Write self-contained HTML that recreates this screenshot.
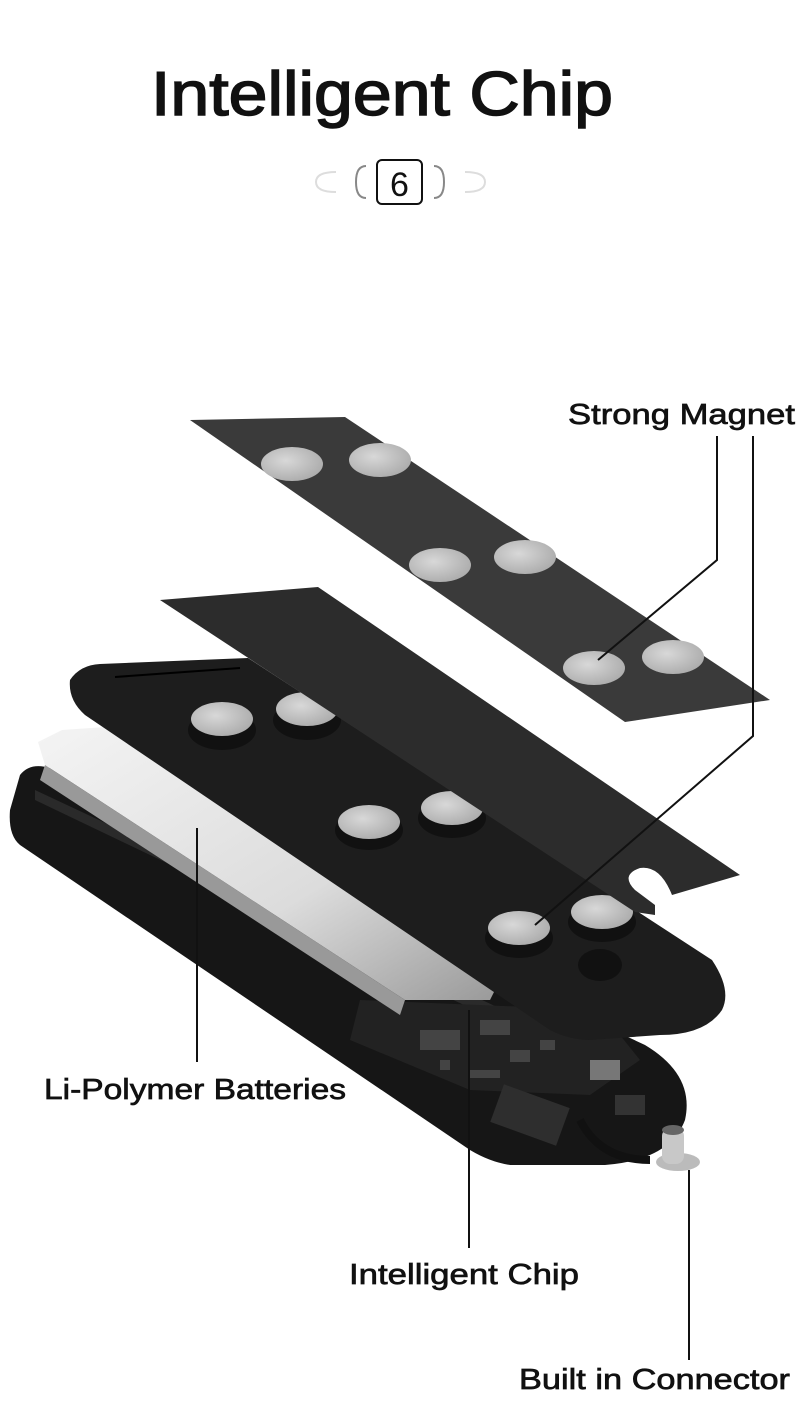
<!DOCTYPE html>
<html><head><meta charset="utf-8"><style>
html,body{margin:0;padding:0;background:#fff}
svg{display:block}
text{font-family:"Liberation Sans",sans-serif;fill:#111;stroke:#111;stroke-width:0.7}
</style></head><body>
<svg width="800" height="1417" viewBox="0 0 800 1417" xmlns="http://www.w3.org/2000/svg">
<defs>
<linearGradient id="bat" x1="0" y1="0" x2="1" y2="1">
<stop offset="0" stop-color="#f4f4f4"/><stop offset="0.6" stop-color="#dcdcdc"/><stop offset="1" stop-color="#9a9a9a"/></linearGradient>
<radialGradient id="mag" cx="0.4" cy="0.4" r="0.7"><stop offset="0" stop-color="#d8d8d8"/><stop offset="1" stop-color="#a8a8a8"/></radialGradient>
</defs>
<text x="382" y="115" font-size="62" text-anchor="middle" textLength="462" lengthAdjust="spacingAndGlyphs" style="stroke-width:1.5">Intelligent Chip</text>
<!-- badge -->
<path d="M336 172 Q316 172 316 182 Q316 192 336 192" fill="none" stroke="#ddd" stroke-width="2"/>
<path d="M465 172 Q485 172 485 182 Q485 192 465 192" fill="none" stroke="#ddd" stroke-width="2"/>
<path d="M366 166 Q356 166 356 182 Q356 198 366 198" fill="none" stroke="#888" stroke-width="2"/>
<path d="M434 166 Q444 166 444 182 Q444 198 434 198" fill="none" stroke="#888" stroke-width="2"/>
<rect x="377" y="160" width="45" height="44" rx="5" fill="#fff" stroke="#111" stroke-width="2"/>
<text x="399.5" y="196" font-size="34" text-anchor="middle" style="stroke-width:0">6</text>

<!-- bottom case -->
<path d="M20 775 Q30 762 50 768 L645 1045 Q695 1075 685 1120 Q670 1160 605 1165 L510 1165 Q490 1162 470 1150 L20 845 Q8 835 10 810 Z" fill="#161616"/>
<path d="M35 790 L610 1060 L600 1070 L35 800 Z" fill="#2a2a2a"/>
<!-- pcb -->
<path d="M360 1000 L600 1010 L640 1060 L590 1095 L470 1090 L350 1040 Z" fill="#222"/>
<g fill="#444">
<rect x="420" y="1030" width="40" height="20"/><rect x="480" y="1020" width="30" height="15"/><rect x="510" y="1050" width="20" height="12"/><rect x="470" y="1070" width="30" height="8"/><rect x="440" y="1060" width="10" height="10"/><rect x="540" y="1040" width="15" height="10"/>
</g>
<rect x="495" y="1095" width="70" height="40" fill="#2e2e2e" transform="rotate(20 530 1115)"/>
<rect x="590" y="1060" width="30" height="20" fill="#777"/>
<rect x="615" y="1095" width="30" height="20" fill="#333"/>
<path d="M580 1120 Q600 1160 650 1160" fill="none" stroke="#111" stroke-width="8"/>
<!-- battery -->
<path d="M38 742 L62 730 L120 726 L495 990 L490 1000 L405 1000 L45 765 Z" fill="url(#bat)"/>
<path d="M45 765 L405 1000 L400 1015 L40 780 Z" fill="#999"/>
<!-- lid -->
<path d="M70 680 Q80 665 100 664 L248 658 L712 960 Q732 990 722 1010 Q705 1035 660 1035 L590 1040 Q570 1040 550 1030 L85 715 Q68 700 70 680 Z" fill="#1d1d1d"/>
<path d="M115 677 L240 668" stroke="#000" stroke-width="2"/>
<g fill="#111">
<ellipse cx="222" cy="730" rx="34" ry="20"/><ellipse cx="307" cy="720" rx="34" ry="20"/>
<ellipse cx="369" cy="830" rx="34" ry="20"/><ellipse cx="452" cy="818" rx="34" ry="20"/>
<ellipse cx="519" cy="938" rx="34" ry="20"/><ellipse cx="602" cy="922" rx="34" ry="20"/>
</g>
<g fill="url(#mag)">
<ellipse cx="222" cy="719" rx="31" ry="17"/><ellipse cx="307" cy="709" rx="31" ry="17"/>
<ellipse cx="369" cy="822" rx="31" ry="17"/><ellipse cx="452" cy="808" rx="31" ry="17"/>
<ellipse cx="519" cy="928" rx="31" ry="17"/><ellipse cx="602" cy="912" rx="31" ry="17"/>
</g>
<ellipse cx="600" cy="965" rx="22" ry="16" fill="#111"/>
<!-- middle plate -->
<path d="M160 600 L318 587 L740 875 L672 895 Q660 865 640 868 Q620 875 635 890 L655 905 L655 915 L635 912 Z" fill="#2c2c2c"/>
<!-- top plate -->
<path d="M190 420 L345 417 L770 700 L625 722 Z" fill="#3a3a3a"/>
<g fill="url(#mag)">
<ellipse cx="292" cy="464" rx="31" ry="17"/><ellipse cx="380" cy="460" rx="31" ry="17"/>
<ellipse cx="440" cy="565" rx="31" ry="17"/><ellipse cx="525" cy="557" rx="31" ry="17"/>
<ellipse cx="594" cy="668" rx="31" ry="17"/><ellipse cx="673" cy="657" rx="31" ry="17"/>
</g>
<!-- connector -->
<ellipse cx="678" cy="1162" rx="22" ry="9" fill="#bbb"/>
<rect x="662" y="1128" width="22" height="36" rx="8" fill="#c8c8c8"/>
<ellipse cx="673" cy="1130" rx="11" ry="5" fill="#666"/>
<!-- leader lines -->
<g stroke="#111" stroke-width="2" fill="none">
<path d="M717 436 L717 560 L598 660"/>
<path d="M753 436 L753 736 L535 925"/>
<path d="M197 828 L197 1062"/>
<path d="M469 1010 L469 1248"/>
<path d="M689 1170 L689 1360"/>
</g>
<text x="568" y="424" font-size="29" textLength="227" lengthAdjust="spacingAndGlyphs">Strong Magnet</text>
<text x="44" y="1099" font-size="29" textLength="302" lengthAdjust="spacingAndGlyphs">Li-Polymer Batteries</text>
<text x="349" y="1284" font-size="29" textLength="230" lengthAdjust="spacingAndGlyphs">Intelligent Chip</text>
<text x="519" y="1389" font-size="29" textLength="271" lengthAdjust="spacingAndGlyphs">Built in Connector</text>
</svg>
</body></html>
